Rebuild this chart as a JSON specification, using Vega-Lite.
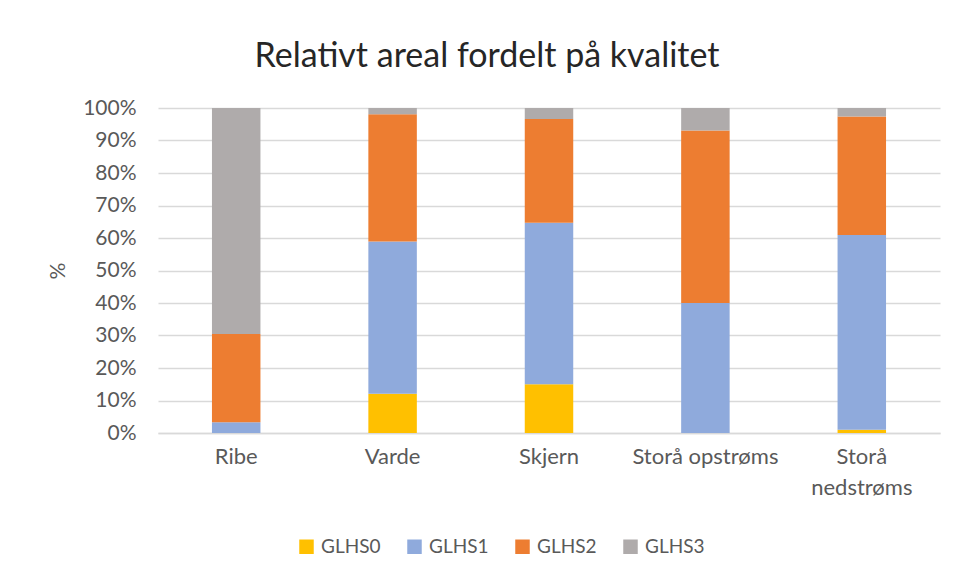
{
  "$schema": "https://vega.github.io/schema/vega-lite/v6.json",
  "autosize": {"type": "none"},
  "width": 782,
  "height": 325,
  "padding": {"left": 158, "top": 108, "right": 16, "bottom": 144},
  "background": "white",
  "title": {
    "text": "Relativt areal fordelt på kvalitet",
    "font": "Lato",
    "fontSize": 34,
    "fontWeight": "normal",
    "color": "#262626",
    "anchor": "middle",
    "frame": "group",
    "dx": -62,
    "offset": -4,
    "baseline": "alphabetic"
  },
  "data": {
    "values": [
      {"site": "Ribe", "klasse": "GLHS0", "pct": 0},
      {"site": "Ribe", "klasse": "GLHS1", "pct": 3.3},
      {"site": "Ribe", "klasse": "GLHS2", "pct": 27.2},
      {"site": "Ribe", "klasse": "GLHS3", "pct": 69.5},
      {"site": "Varde", "klasse": "GLHS0", "pct": 12.1},
      {"site": "Varde", "klasse": "GLHS1", "pct": 46.8},
      {"site": "Varde", "klasse": "GLHS2", "pct": 39.2},
      {"site": "Varde", "klasse": "GLHS3", "pct": 1.9},
      {"site": "Skjern", "klasse": "GLHS0", "pct": 15.0},
      {"site": "Skjern", "klasse": "GLHS1", "pct": 49.7},
      {"site": "Skjern", "klasse": "GLHS2", "pct": 31.9},
      {"site": "Skjern", "klasse": "GLHS3", "pct": 3.4},
      {"site": "Storå opstrøms", "klasse": "GLHS0", "pct": 0},
      {"site": "Storå opstrøms", "klasse": "GLHS1", "pct": 40.0},
      {"site": "Storå opstrøms", "klasse": "GLHS2", "pct": 53.1},
      {"site": "Storå opstrøms", "klasse": "GLHS3", "pct": 6.9},
      {"site": "Storå nedstrøms", "klasse": "GLHS0", "pct": 1.0},
      {"site": "Storå nedstrøms", "klasse": "GLHS1", "pct": 59.9},
      {"site": "Storå nedstrøms", "klasse": "GLHS2", "pct": 36.5},
      {"site": "Storå nedstrøms", "klasse": "GLHS3", "pct": 2.6}
    ]
  },
  "mark": {"type": "bar"},
  "encoding": {
    "x": {
      "field": "site",
      "type": "nominal",
      "sort": ["Ribe", "Varde", "Skjern", "Storå opstrøms", "Storå nedstrøms"],
      "scale": {"paddingInner": 0.69, "paddingOuter": 0.345},
      "axis": {
        "title": null,
        "labelAngle": 0,
        "labelFont": "Lato",
        "labelFontSize": 22,
        "labelColor": "#595959",
        "labelPadding": 13,
        "labelLineHeight": 31,
        "labelExpr": "datum.label == 'Storå nedstrøms' ? ['Storå', 'nedstrøms'] : datum.label",
        "ticks": false,
        "domainColor": "#d9d9d9",
        "domainWidth": 1.5
      }
    },
    "y": {
      "field": "pct",
      "type": "quantitative",
      "stack": "zero",
      "scale": {"domain": [0, 100], "nice": false},
      "axis": {
        "title": "%",
        "titleFont": "Lato",
        "titleFontSize": 21,
        "titleFontWeight": "normal",
        "titleColor": "#595959",
        "titlePadding": 14,
        "values": [0, 10, 20, 30, 40, 50, 60, 70, 80, 90, 100],
        "labelExpr": "datum.value + '%'",
        "labelFont": "Lato",
        "labelFontSize": 21,
        "labelColor": "#595959",
        "labelPadding": 22,
        "ticks": false,
        "domain": false,
        "grid": true,
        "gridColor": "#d9d9d9",
        "gridWidth": 1.5
      }
    },
    "color": {
      "field": "klasse",
      "type": "nominal",
      "sort": ["GLHS0", "GLHS1", "GLHS2", "GLHS3"],
      "scale": {
        "domain": ["GLHS0", "GLHS1", "GLHS2", "GLHS3"],
        "range": ["#FFC000", "#8FAADC", "#ED7D31", "#AFABAB"]
      },
      "legend": {
        "title": null,
        "orient": "none",
        "direction": "horizontal",
        "legendX": 139,
        "legendY": 429,
        "symbolType": "square",
        "symbolSize": 210,
        "symbolStrokeWidth": 0,
        "labelFont": "Lato",
        "labelFontSize": 19,
        "labelColor": "#595959",
        "labelOffset": 5,
        "columnPadding": 24
      }
    },
    "order": {"field": "klasse", "sort": "ascending"}
  },
  "config": {
    "view": {"stroke": null}
  }
}
